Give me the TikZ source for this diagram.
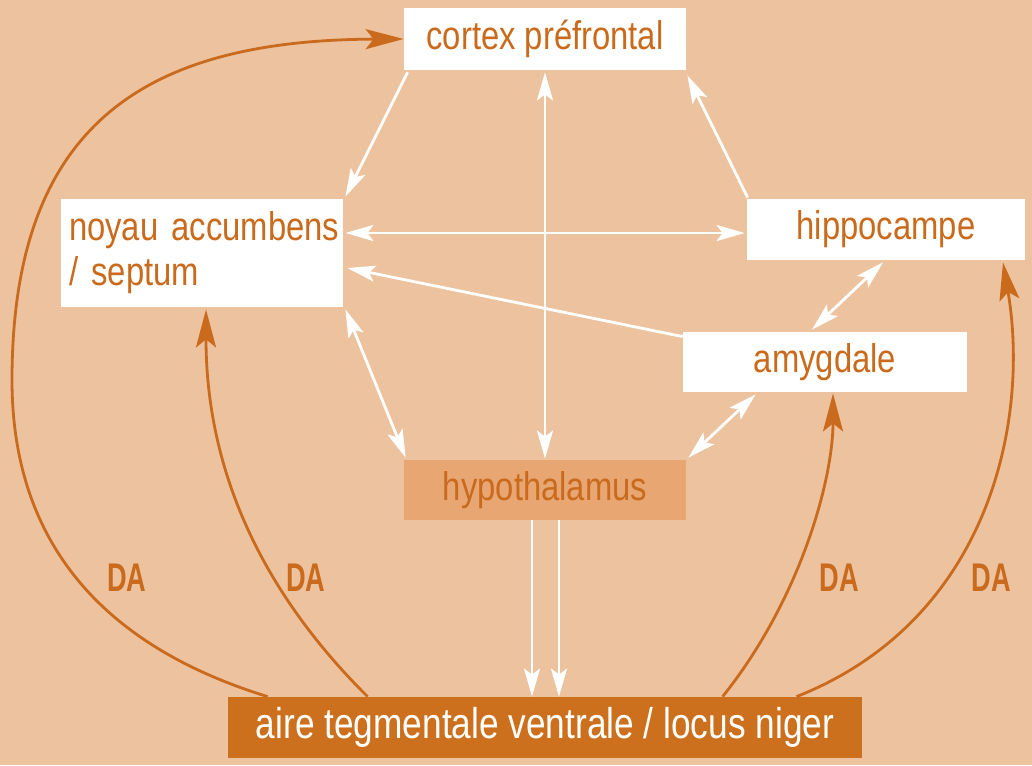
\documentclass[tikz,border=0pt]{standalone}
\usepackage{fontspec}
\setmainfont{Liberation Sans}[FakeStretch=0.82]
\newfontfamily\dafont{Liberation Sans}[FakeStretch=0.68]
\usetikzlibrary{arrows.meta,calc}
\definecolor{bg}{HTML}{EDC29E}
\definecolor{ora}{HTML}{C96A1C}
\definecolor{hypo}{HTML}{E8A673}
\definecolor{vtafill}{HTML}{CC701D}
\tikzset{
  wbox/.style={fill=white, text=ora, inner sep=0pt, font=\fontsize{20}{22.5}\selectfont},
  wline/.style={white, line width=1.4pt},
  wtip/.tip={Stealth[length=14pt,width=8pt,inset=3pt]},
  oline/.style={ora, line width=1.4pt},
  otip/.tip={Stealth[length=19pt,width=10pt,inset=4pt]},
  dalabel/.style={text=ora, font=\dafont\bfseries\fontsize{20}{22}\selectfont, inner sep=0pt}
}
\begin{document}
\begin{tikzpicture}[x=0.5pt,y=-0.5pt]
\fill[bg] (0,0) rectangle (1032,765);
\useasboundingbox (0,0) rectangle (1032,765);

% boxes
\node[wbox, minimum width=141pt, minimum height=31pt] (cortex) at (545,39) {cortex préfrontal};
\node[wbox, minimum width=141pt, minimum height=54pt, text width=133pt, align=left, inner xsep=4pt] (noyau) at (202,253) {\mbox{noyau accumbens}\\/ septum};
\node[wbox, minimum width=139pt, minimum height=30.5pt] (hippo) at (886,229.5) {hippocampe};
\node[wbox, minimum width=142pt, minimum height=30pt] (amyg) at (825,362) {amygdale};
\node[wbox, fill=hypo, minimum width=141pt, minimum height=30pt] (hypo) at (545,490) {hypothalamus};
\node[wbox, fill=vtafill, text=white, minimum width=317pt, minimum height=30.5pt, font=\fontsize{21.5}{24}\selectfont] (vta) at (545,727.5) {aire tegmentale ventrale / locus niger};

% white connectors
\draw[wline, -wtip] ($(cortex.south west)+(4,2)$) -- ($(noyau.north east)+(2,-2)$);
\draw[wline, -wtip] ($(hippo.north west)+(1,-1)$) -- ($(cortex.south east)+(1,5)$);
\draw[wline, wtip-wtip] ($(cortex.south)+(0,2)$) -- ($(hypo.north)+(0,-1)$);
\draw[wline, wtip-wtip] ($(noyau.east)+(2,-20)$) -- ($(hippo.west)+(-2,3.5)$);
\draw[wline, -wtip] ($(amyg.north west)+(0,5)$) -- ($(noyau.east)+(4,15)$);
\draw[wline, wtip-wtip] ($(noyau.south east)+(2,2)$) -- ($(hypo.north west)+(2,-2)$);
\draw[wline, wtip-wtip] ($(hippo.south)+(-3,2)$) -- ($(amyg.north)+(-13,-2)$);
\draw[wline, wtip-wtip] ($(amyg.south west)+(73,2)$) -- ($(hypo.north east)+(2,-2)$);
\draw[wline, -wtip] ($(hypo.south)+(-13,0)$) -- ($(vta.north)+(-13,0)$);
\draw[wline, -wtip] ($(hypo.south)+(14,0)$) -- ($(vta.north)+(14,0)$);

% orange DA connectors
\coordinate (aleft) at (12,380);
\draw[oline, -otip] ($(vta.north west)+(40,0)$) .. controls (100,645) and (12,540) .. (aleft)
   .. controls (12,120) and (150,40) .. (cortex.west);
\draw[oline, -otip] ($(vta.north west)+(140,0)$) .. controls (270,600) and (206,480) .. ($(noyau.south)+(4,2)$);
\draw[oline, -otip] ($(vta.north west)+(495,0)$) .. controls (800,600) and (833,480) .. ($(amyg.south)+(8,1)$);
\draw[oline, -otip] ($(vta.north west)+(569,0)$) .. controls (990,620) and (1030,420) .. ($(hippo.south)+(117,2)$);

\node[dalabel] (da1) at (127,578) {DA};
\node[dalabel] (da2) at (306,578) {DA};
\node[dalabel] (da3) at (839,578) {DA};
\node[dalabel] (da4) at (991,578) {DA};
\end{tikzpicture}
\end{document}
